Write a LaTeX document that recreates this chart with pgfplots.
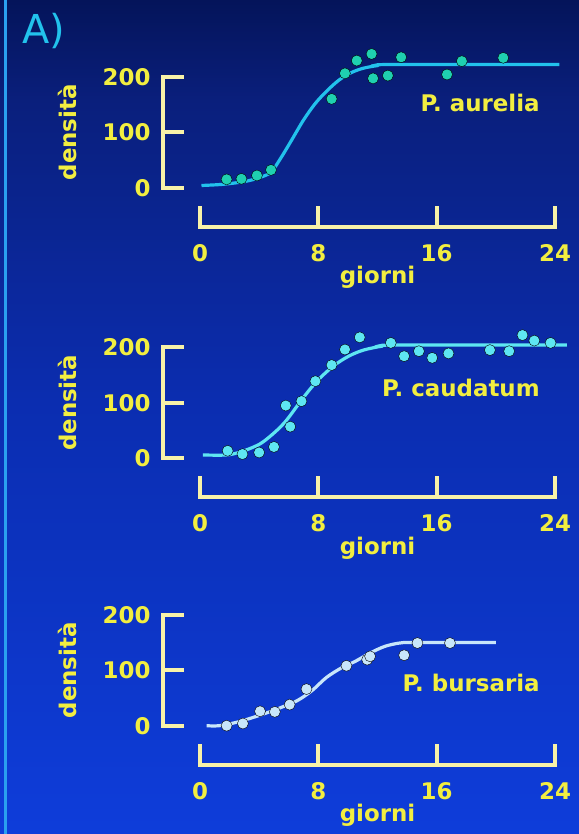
\documentclass[border=0pt]{standalone}
\usepackage{pgfplots}
\pgfplotsset{compat=1.18}
\usepackage{fontspec}
\setmainfont{DejaVu Sans}
\definecolor{txt}{HTML}{F2EE40}
\definecolor{axc}{HTML}{F8F2A8}
\definecolor{bgA}{HTML}{04145A}
\definecolor{bgB}{HTML}{0A1F7C}
\definecolor{bgC}{HTML}{0B2DB0}
\definecolor{bgD}{HTML}{0E3DDA}
\definecolor{lineA}{HTML}{22C2EC}
\definecolor{dotA}{HTML}{1FD0B0}
\definecolor{lineB}{HTML}{5EE6F2}
\definecolor{lineC}{HTML}{C8E6FA}
\definecolor{leftline}{HTML}{2AA0F0}
\newcommand{\bigf}{\fontsize{23}{27}\selectfont\bfseries}
\pgfplotsset{panel/.style={
  scale only axis, width=355bp, height=111bp,
  xmin=0, xmax=24, ymin=0, ymax=200,
  axis lines*=left,
  axis x line shift=39bp,
  axis y line shift=37bp,
  clip=false,
  xtick={0,8,16,24}, ytick={0,100,200},
  tick align=inside,
  major tick length=19bp,
  axis line style={line width=3.8bp, color=axc, line cap=rect},
  tick style={line width=3.8bp, color=axc, line cap=rect},
  tick label style={font=\bigf, text=txt},
  xticklabel style={yshift=-14bp},
  yticklabel style={xshift=-9bp},
  /pgf/number format/assume math mode=true,
  label style={font=\bigf, text=txt},
  xlabel={giorni}, ylabel={densità},
  xlabel style={at={(axis description cs:0.5,-0.81)}, anchor=center},
  ylabel style={at={(axis description cs:-0.372,0.5)}, anchor=center},
}}
\begin{document}
\begin{tikzpicture}
\shade[top color=bgA, bottom color=bgB] (0,0) rectangle (579bp,-100bp);
\shade[top color=bgB, bottom color=bgC] (0,-100bp) rectangle (579bp,-400bp);
\shade[top color=bgC, bottom color=bgD] (0,-400bp) rectangle (579bp,-834bp);
\draw[leftline, line width=2.5bp] (5.5bp,0) -- (5.5bp,-834bp);
\node[text=lineA, font=\fontsize{40}{44}\selectfont] at (44bp,-31bp) {A)};

% Panel 1: P. aurelia
\begin{axis}[panel, at={(200bp,-187.7bp)}, anchor=south west]
\addplot[smooth, line width=3.2bp, lineA] coordinates {
 (0.1,4) (1.5,6) (3,11) (4,18) (4.8,28) (5.5,55) (6.2,86) (7,122) (7.8,152)
 (8.6,175) (9.4,194) (10.2,207) (11,215) (12,220) (13,222) (24.3,222)};
\addplot[only marks, mark=*, mark size=5.5bp, mark options={draw=none, fill=dotA}] coordinates {
 (1.8,15) (2.8,16) (3.85,22) (4.8,32) (8.9,160) (9.8,206) (10.6,229) (11.6,241)
 (11.7,197) (12.7,202) (13.6,235) (16.7,204) (17.7,228) (20.5,234)};
\node[anchor=east, text=txt, font=\bigf] at (axis cs:23.2,152) {P. aurelia};
\end{axis}

% Panel 2: P. caudatum
\begin{axis}[panel, at={(200bp,-458.3bp)}, anchor=south west]
\addplot[smooth, line width=3.2bp, lineB] coordinates {
 (0.2,6) (1.8,6) (2.8,12) (4.06,26) (5.06,47) (5.8,67) (6.56,94) (7.3,120)
 (8.05,143) (9.05,167) (10.05,184) (11.05,195) (12.3,202) (13.3,204) (24.8,204)};
\addplot[only marks, mark=*, mark size=5.5bp, mark options={draw=none, fill=lineB}] coordinates {
 (1.87,13.5) (2.87,7.6) (4.0,10.5) (5.0,20.5) (5.8,95) (6.1,57) (6.86,103) (7.8,139)
 (8.9,168) (9.8,196) (10.8,218) (12.9,208) (13.8,184) (14.8,193) (15.7,181) (16.8,189)
 (19.6,195) (20.9,193) (21.8,222) (22.6,212) (23.7,208)};
\node[anchor=east, text=txt, font=\bigf] at (axis cs:23.2,127) {P. caudatum};
\end{axis}

% Panel 3: P. bursaria
\begin{axis}[panel, at={(200bp,-725.7bp)}, anchor=south west]
\addplot[smooth, line width=3.2bp, lineC] coordinates {
 (0.45,0) (1.3,0) (2.6,7) (4.06,19) (5.3,31) (6.56,45) (7.56,63) (8.55,87)
 (9.55,104) (10.5,116) (11.5,131) (12.5,143) (13.5,149) (14.5,150) (20,150)};
\addplot[only marks, mark=*, mark size=5.5bp, mark options={draw=none, fill=lineC}] coordinates {
 (1.8,0) (2.9,4) (4.06,26) (5.06,25) (6.06,38) (7.2,66) (9.9,108) (11.3,119)
 (11.5,125) (13.8,127) (14.7,149) (16.9,149)};
\node[anchor=east, text=txt, font=\bigf] at (axis cs:23.2,77) {P. bursaria};
\end{axis}

\pgfresetboundingbox
\path[use as bounding box] (0,0) rectangle (579bp,-834bp);
\end{tikzpicture}
\end{document}
